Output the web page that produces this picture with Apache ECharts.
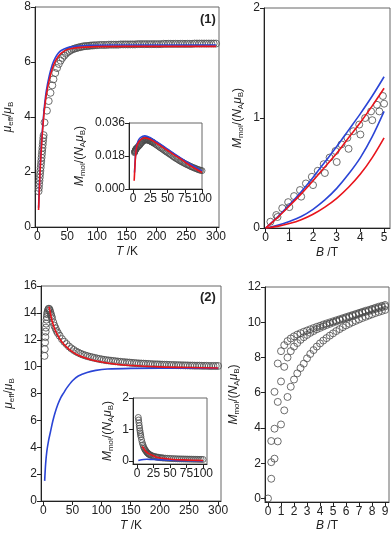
<!DOCTYPE html>
<html>
<head>
<meta charset="utf-8">
<script src="https://cdn.jsdelivr.net/npm/echarts@6/dist/echarts.min.js"></script>
<style>
html, body { margin: 0; padding: 0; background: #fff; }
#chart { width: 392px; height: 534px; }
</style>
</head>
<body>
<div id="chart"></div>
<script>
// ---- (1) mu_eff vs T ----
var p1Circles = [[2,1.3],[2.5,1.42],[3,1.55],[3.5,1.68],[4,1.8],[4.5,1.92],[5,2.04],[5.5,2.16],[6,2.28],[6.5,2.4],[7,2.52],[7.5,2.64],[8,2.76],[8.5,2.88],[9,3.0],[9.5,3.12],[10,3.24],[10.5,3.34],
  [12,3.8],[16,4.23],[19,4.58],[22,4.88],[25,5.15],[27,5.37],[30,5.6],[33,5.78],[36,5.93],[39,6.05],[42,6.15],[45,6.23],[48,6.3],[51,6.36],[54,6.4],[57,6.44],[60,6.47],[63,6.49],[66,6.51],[69,6.53],[72,6.54],[75,6.56],
  [78,6.57],[81,6.58],[84,6.58],[87,6.59],[90,6.6],[93,6.6],[96,6.61],[100,6.61],[104,6.62],[108,6.62],[112,6.62],[116,6.62],[120,6.63],[124,6.63],[128,6.63],[132,6.63],[136,6.63],[140,6.64],[144,6.64],[148,6.64],
  [152,6.64],[156,6.64],[160,6.64],[164,6.64],[168,6.65],[172,6.65],[176,6.65],[180,6.65],[184,6.65],[188,6.65],[192,6.65],[196,6.65],[200,6.65],[204,6.65],[208,6.65],[212,6.66],[216,6.66],[220,6.66],[224,6.66],
  [228,6.66],[232,6.66],[236,6.66],[240,6.66],[244,6.66],[248,6.66],[252,6.66],[256,6.66],[260,6.66],[264,6.67],[268,6.67],[272,6.67],[276,6.67],[280,6.67],[284,6.67],[288,6.67],[292,6.67],[296,6.67],[300,6.67]];
var p1Red = [[2,0.62],[3,1.2],[4,1.75],[5,2.2],[6,2.6],[8,3.3],[10,3.85],[12,4.3],[15,4.8],[20,5.35],[25,5.75],[30,6.02],[35,6.2],[40,6.32],[50,6.45],[60,6.5],[80,6.54],[100,6.56],[150,6.57],[200,6.57],[250,6.57],[300,6.57]];
var p1Blue = [[2,0.7],[3,1.3],[4,1.85],[5,2.3],[6,2.7],[8,3.4],[10,3.95],[12,4.42],[15,4.95],[20,5.5],[25,5.9],[30,6.15],[35,6.32],[40,6.42],[50,6.52],[60,6.56],[80,6.6],[100,6.61],[150,6.62],[200,6.62],[250,6.62],[300,6.62]];

// inset (1): M vs T
var in1Circles = [[2,0.0198],[2.25,0.0202],[2.5,0.0205],[2.75,0.0208],[3,0.021],[3.5,0.0214],[4,0.0218],[4.5,0.022],[5,0.0222],[6,0.0226],[7,0.023],[8,0.0234],[9,0.0238],[10,0.0242],[11,0.0247],[12,0.0252],[13,0.0256],[14,0.026],
  [15,0.0263],[16,0.0266],[17,0.0267],[18,0.0268],[19,0.0268],[20,0.0268],[21,0.0267],[22,0.0266],[23,0.0265],[24,0.0263],[25,0.0261],[26,0.0259],[27,0.0257],[28,0.0255],[29,0.0253],[30,0.025],[32,0.0245],[34,0.024],
  [36,0.0235],[38,0.0229],[40,0.0224],[42,0.0219],[44,0.0214],[46,0.0208],[48,0.0203],[50,0.0198],[52,0.0193],[54,0.0188],[56,0.0183],[58,0.0177],[60,0.0172],[62,0.0167],[64,0.0163],[66,0.0158],[68,0.0153],[70,0.0149],
  [72,0.0145],[74,0.0141],[76,0.0137],[78,0.0133],[80,0.013],[82,0.0126],[84,0.0122],[86,0.0119],[88,0.0116],[90,0.0113],[92,0.011],[94,0.0107],[96,0.0104],[98,0.0102],[100,0.01]];
var in1Red = [[1.5,0.0045],[2,0.008],[3,0.015],[4,0.02],[5,0.0228],[7,0.025],[10,0.0265],[14,0.0276],[17,0.0279],[20,0.0277],[25,0.027],[30,0.026],[40,0.0235],[50,0.021],[60,0.0185],[70,0.0162],[80,0.0135],[90,0.0112],[100,0.009]];
var in1Blue = [[2,0.009],[3,0.016],[4,0.021],[5,0.0235],[7,0.026],[10,0.0278],[14,0.0288],[17,0.029],[20,0.0288],[25,0.028],[30,0.0268],[40,0.0243],[50,0.0217],[60,0.0191],[70,0.0167],[80,0.0142],[90,0.012],[100,0.0098]];

// ---- (1) M vs B ----
var p2CirclesA = [[0.2,0.057],[0.45,0.118],[0.7,0.18],[0.95,0.235],[1.2,0.29],[1.45,0.345],[1.7,0.405],[1.95,0.465],[2.2,0.52],[2.45,0.58],[2.7,0.64],[2.95,0.7],[3.2,0.76],[3.45,0.82],[3.7,0.88],[3.95,0.94],[4.2,1.0],[4.45,1.06],[4.7,1.12],[4.95,1.2]];
var p2CirclesB = [[0.5,0.1],[1.0,0.19],[1.5,0.285],[2.0,0.39],[2.5,0.5],[3.0,0.6],[3.5,0.72],[4.0,0.85],[4.5,0.98],[4.8,1.06],[5.0,1.13]];
var p2RedA = [[0,0],[0.5,0.095],[1,0.2],[1.5,0.31],[2,0.43],[2.5,0.555],[3,0.68],[3.5,0.82],[4,0.96],[4.5,1.11],[5,1.27]];
var p2BlueA = [[0,0],[0.5,0.1],[1,0.21],[1.5,0.33],[2,0.46],[2.5,0.6],[3,0.74],[3.5,0.89],[4,1.04],[4.5,1.2],[5,1.375]];
var p2RedB = [[0,0],[0.5,0.015],[1,0.04],[1.5,0.075],[2,0.125],[2.5,0.19],[3,0.27],[3.5,0.37],[4,0.49],[4.5,0.64],[5,0.82]];
var p2BlueB = [[0,0],[0.5,0.025],[1,0.06],[1.5,0.105],[2,0.17],[2.5,0.255],[3,0.36],[3.5,0.49],[4,0.64],[4.5,0.83],[5,1.06]];

// ---- (2) mu_eff vs T ----
var p3Circles = [[2,10.8],[2.5,11.3],[3,11.8],[3.5,12.2],[4,12.6],[4.5,12.9],[5,13.2],[5.5,13.5],[6,13.7],[6.5,13.9],[7,14.05],[8,14.2],[9,14.3],[10,14.3],[11,14.2],[12,14.05],[13,13.9],[14,13.75],[15,13.6],[17,13.3],[19,13.05],
  [21,12.85],[23,12.65],[25,12.5],[28,12.3],[32,12.05],[36,11.85],[40,11.68],[44,11.5],[48,11.36],[52,11.24],[56,11.13],[60,11.04],[64,10.96],[68,10.89],[72,10.83],[76,10.78],[80,10.73],[84,10.69],[88,10.65],[92,10.61],
  [96,10.57],[100,10.54],[104,10.51],[108,10.48],[112,10.46],[116,10.44],[120,10.42],[124,10.4],[128,10.38],[132,10.36],[136,10.34],[140,10.33],[144,10.31],[148,10.3],[152,10.28],[156,10.27],[160,10.25],[164,10.24],
  [168,10.23],[172,10.22],[176,10.21],[180,10.2],[184,10.19],[188,10.18],[192,10.17],[196,10.17],[200,10.16],[204,10.15],[208,10.14],[212,10.14],[216,10.13],[220,10.12],[224,10.12],[228,10.11],[232,10.11],[236,10.1],
  [240,10.1],[244,10.09],[248,10.09],[252,10.08],[256,10.08],[260,10.07],[264,10.07],[268,10.07],[272,10.06],[276,10.06],[280,10.06],[284,10.05],[288,10.05],[292,10.05],[296,10.05],[300,10.05]];
var p3Red = [[9,14.45],[10,14.4],[12,14.0],[15,13.4],[20,12.75],[25,12.3],[30,11.95],[40,11.45],[50,11.1],[60,10.85],[70,10.67],[80,10.53],[100,10.34],[125,10.18],[150,10.08],[200,9.98],[250,9.93],[300,9.9]];
var p3Blue = [[2.3,1.5],[4,2.8],[6,3.7],[9,4.5],[12,5.1],[16,5.9],[20,6.55],[25,7.2],[30,7.7],[35,8.05],[40,8.4],[50,8.95],[60,9.3],[75,9.57],[90,9.72],[110,9.82],[150,9.87],[200,9.88],[250,9.88],[300,9.88]];

// inset (2): M vs T
var in2Circles = [[2,1.38],[2.5,1.3],[3,1.21],[3.5,1.12],[4,1.04],[4.5,0.96],[5,0.89],[5.5,0.83],[6,0.77],[7,0.67],[8,0.58],[9,0.51],[10,0.45],[11,0.4],[12,0.36],[13,0.33],[14,0.3],[15,0.27],[16,0.25],[17,0.23],[18,0.21],
  [19,0.2],[20,0.19],[22,0.17],[24,0.15],[26,0.14],[28,0.13],[30,0.12],[32,0.115],[34,0.105],[36,0.1],[38,0.095],[40,0.09],[43,0.085],[46,0.08],[49,0.077],[52,0.073],[55,0.07],[58,0.068],[61,0.065],[64,0.063],
  [67,0.061],[70,0.06],[73,0.058],[76,0.057],[79,0.055],[82,0.054],[85,0.052],[88,0.051],[91,0.05],[94,0.048],[97,0.047],[100,0.045]];
var in2Red = [[8,0.46],[10,0.4],[13,0.31],[17,0.24],[22,0.19],[28,0.13],[35,0.09],[45,0.065],[55,0.045],[70,0.03],[85,0.018],[100,0.01]];
var in2Blue = [[2,0.01],[5,0.03],[10,0.045],[15,0.05],[20,0.048],[30,0.04],[50,0.02],[70,0.006],[100,0.0]];

// ---- (2) M vs B ----
var p4CirclesA = [[0,0],[0.25,3.26],[0.5,6.05],[0.75,7.66],[1,8.36],[1.25,8.7],[1.5,8.93],[1.75,9.08],[2,9.2],[2.25,9.3],[2.5,9.38],[2.75,9.46],[3,9.53],[3.25,9.6],[3.5,9.67],[3.75,9.74],[4,9.8],[4.25,9.87],[4.5,9.93],[4.75,9.99],
  [5,10.05],[5.25,10.11],[5.5,10.17],[5.75,10.23],[6,10.29],[6.25,10.35],[6.5,10.41],[6.75,10.47],[7,10.53],[7.25,10.59],[7.5,10.65],[7.75,10.7],[8,10.76],[8.25,10.82],[8.5,10.88],[8.75,10.93],[9,10.98]];
var p4CirclesB = [[0.25,2.06],[0.5,3.96],[0.75,5.48],[1,6.64],[1.25,7.47],[1.5,8.0],[1.75,8.36],[2,8.62],[2.25,8.82],[2.5,9.0],[2.75,9.15],[3,9.28],[3.25,9.4],[3.5,9.5],[3.75,9.6],[4,9.68],[4.25,9.76],[4.5,9.84],[4.75,9.91],
  [5,9.98],[5.25,10.05],[5.5,10.12],[5.75,10.18],[6,10.24],[6.25,10.3],[6.5,10.36],[6.75,10.42],[7,10.48],[7.25,10.54],[7.5,10.59],[7.75,10.64],[8,10.7],[8.25,10.75],[8.5,10.8],[8.75,10.85],[9,10.9]];
var p4CirclesC = [[0.25,1.12],[0.5,2.26],[0.75,3.24],[1,4.2],[1.25,5.0],[1.5,5.76],[1.75,6.34],[2,6.75],[2.25,7.1],[2.5,7.4],[2.75,7.65],[3,7.95],[3.25,8.2],[3.5,8.42],[3.75,8.62],[4,8.8],[4.25,8.96],[4.5,9.1],[4.75,9.24],
  [5,9.37],[5.25,9.5],[5.5,9.61],[5.75,9.72],[6,9.82],[6.25,9.91],[6.5,10.0],[6.75,10.08],[7,10.16],[7.25,10.24],[7.5,10.31],[7.75,10.38],[8,10.45],[8.25,10.52],[8.5,10.58],[8.75,10.64],[9,10.7]];

// tick values
var tTicks = [0, 50, 100, 150, 200, 250, 300];
var insetTicks = [0, 25, 50, 75, 100];
var p1YTicks = [0, 2, 4, 6, 8];
var p2XTicks = [0, 1, 2, 3, 4, 5];
var p2YTicks = [0, 1, 2];
var p3YTicks = [0, 2, 4, 6, 8, 10, 12, 14, 16];
var p4XTicks = [0, 1, 2, 3, 4, 5, 6, 7, 8, 9];
var p4YTicks = [0, 2, 4, 6, 8, 10, 12];
var in1YTicks = [0, 0.018, 0.036];
var in2YTicks = [0, 1, 2];

var RED = '#e8141c', BLUE = '#2b45d6', RING = '#4a4a4a', INK = '#222';
var FONT = 'Liberation Sans';

var rich = {
    i: {fontStyle: 'italic', fontSize: 12, fontFamily: FONT, color: INK},
    n: {fontSize: 12, fontFamily: FONT, color: INK},
    s: {fontSize: 8, fontFamily: FONT, color: INK, padding: [7, 0, 0, 0]}
};
var muName = '{i|μ}{s|eff}{n|/}{i|μ}{s|B}';
var mName = '{i|M}{s|mol}{n|/(}{i|N}{s|A}{i|μ}{s|B}{n|)}';

function axis(gi, min, max, ticks, name, gap, fmt) {
    return {
        type: 'value', gridIndex: gi, min: min, max: max,
        axisLine: {show: true, onZero: false, lineStyle: {color: INK, width: 1}},
        axisTick: {show: true, inside: false, length: 4, customValues: ticks, lineStyle: {color: INK}},
        axisLabel: {customValues: ticks, color: INK, fontFamily: FONT, fontSize: 12, margin: 4, formatter: fmt},
        splitLine: {show: false},
        name: name, nameLocation: 'middle', nameGap: gap,
        nameTextStyle: {rich: rich}
    };
}

function circles(data, ax, size) {
    return {
        type: 'scatter', xAxisIndex: ax, yAxisIndex: ax, data: data,
        symbol: 'circle', symbolSize: size || 7, silent: true,
        itemStyle: {color: 'rgba(255,255,255,0)', borderColor: RING, borderWidth: 1}
    };
}

function curve(data, color, ax) {
    return {
        type: 'line', xAxisIndex: ax, yAxisIndex: ax, data: data,
        showSymbol: false, smooth: 0.3, silent: true, z: 3,
        lineStyle: {color: color, width: 1.6}
    };
}

var box = {show: true, borderColor: '#666', borderWidth: 1, backgroundColor: '#fff'};
function grid(l, t, w, h) {
    return Object.assign({left: l, top: t, width: w, height: h, outerBoundsMode: 'none'}, box);
}

var chart = echarts.init(document.getElementById('chart'), null, {renderer: 'canvas'});
chart.setOption({
    animation: false,
    backgroundColor: '#fff',
    grid: [
        grid(35, 7, 184, 220),
        grid(264, 8, 126, 220),
        grid(41, 286, 180, 215),
        grid(265, 287, 124, 215),
        grid(129, 123, 73, 66),
        grid(133, 398, 74, 66)
    ],
    xAxis: [
        axis(0, -4, 305, tTicks, '{i|T}{n| /K}', 19),
        axis(1, -0.07, 5.25, p2XTicks, '{i|B}{n| /T}', 19),
        axis(2, -4, 305, tTicks, '{i|T}{n| /K}', 19),
        axis(3, -0.23, 9.3, p4XTicks, '{i|B}{n| /T}', 18),
        axis(4, -6, 100, insetTicks, '', 10),
        axis(5, -6, 106, insetTicks, '', 10)
    ],
    yAxis: [
        axis(0, 0, 8, p1YTicks, muName, 20),
        axis(1, 0, 2, p2YTicks, mName, 19),
        axis(2, 0, 16, p3YTicks, muName, 25),
        axis(3, -0.2, 12, p4YTicks, mName, 24),
        axis(4, 0, 0.036, in1YTicks, mName, 42, function (v) { return v.toFixed(3); }),
        axis(5, -0.1, 2, in2YTicks, mName, 18)
    ],
    graphic: [
        {type: 'text', left: 200, top: 13, style: {text: '(1)', font: 'bold 13px "Liberation Sans"', fill: INK}},
        {type: 'text', left: 200, top: 291, style: {text: '(2)', font: 'bold 13px "Liberation Sans"', fill: INK}}
    ],
    series: [
        circles(p1Circles, 0), curve(p1Blue, BLUE, 0), curve(p1Red, RED, 0),
        circles(p2CirclesA, 1), circles(p2CirclesB, 1),
        curve(p2BlueA, BLUE, 1), curve(p2BlueB, BLUE, 1), curve(p2RedA, RED, 1), curve(p2RedB, RED, 1),
        circles(p3Circles, 2), curve(p3Blue, BLUE, 2), curve(p3Red, RED, 2),
        circles(p4CirclesA, 3), circles(p4CirclesB, 3), circles(p4CirclesC, 3),
        circles(in1Circles, 4, 6), curve(in1Blue, BLUE, 4), curve(in1Red, RED, 4),
        circles(in2Circles, 5, 6), curve(in2Blue, BLUE, 5), curve(in2Red, RED, 5)
    ]
});
</script>
</body>
</html>
